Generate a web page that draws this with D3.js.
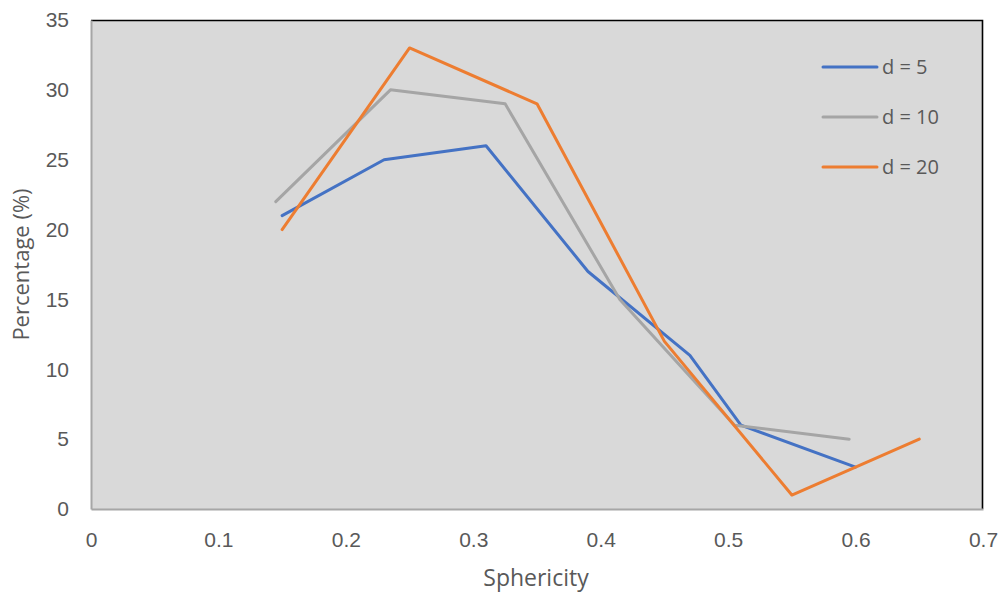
<!DOCTYPE html>
<html>
<head>
<meta charset="utf-8">
<script src="https://cdn.jsdelivr.net/npm/d3@7"></script>
<style>
  body { margin: 0; background: #fff; }
  svg { display: block; font-family: "Open Sans", "Liberation Sans", sans-serif; }
</style>
</head>
<body>
<svg id="chart" width="1003" height="594"></svg>
<script>
// series data
const d5X  = [0.15, 0.23, 0.31, 0.39, 0.47, 0.51, 0.60];
const d5Y  = [21, 25, 26, 17, 11, 6, 3];
const d10X = [0.145, 0.235, 0.325, 0.415, 0.505, 0.595];
const d10Y = [22, 30, 29, 15, 6, 5];
const d20X = [0.15, 0.25, 0.35, 0.45, 0.55, 0.65];
const d20Y = [20, 33, 29, 12, 1, 5];

const seriesNames = ["d = 5", "d = 10", "d = 20"];
const seriesColors = ["#4472c4", "#a5a5a5", "#ed7d31"];
const xTicks = [0, 0.1, 0.2, 0.3, 0.4, 0.5, 0.6, 0.7];
const yTicks = [0, 5, 10, 15, 20, 25, 30, 35];

const W = 1003, H = 594;
const margin = { top: 20, right: 20, bottom: 85, left: 91 };
const iw = W - margin.left - margin.right;
const ih = H - margin.top - margin.bottom;

const svg = d3.select("#chart");
const g = svg.append("g").attr("transform", `translate(${margin.left},${margin.top})`);

const x = d3.scaleLinear().domain([0, 0.7]).range([0, iw]);
const y = d3.scaleLinear().domain([0, 35]).range([ih, 0]);

// plot area
g.append("rect")
  .attr("width", iw).attr("height", ih)
  .attr("fill", "#d9d9d9");

// black frame on top and right
g.append("path")
  .attr("d", `M0,0.5H${iw - 0.5}V${ih}`)
  .attr("fill", "none")
  .attr("stroke", "#000")
  .attr("stroke-width", 1.6);

// axes
const xAxis = g.append("g")
  .attr("transform", `translate(0,${ih})`)
  .call(d3.axisBottom(x).tickValues(xTicks).tickSize(0).tickPadding(23)
    .tickFormat(d => d === 0 ? "0" : d3.format(".1f")(d)));
const yAxis = g.append("g")
  .call(d3.axisLeft(y).tickValues(yTicks).tickSize(0).tickPadding(22));

[xAxis, yAxis].forEach(a => {
  a.select(".domain").attr("stroke", "#a6a6a6").attr("stroke-width", 2);
  a.selectAll("text").attr("fill", "#595959").style("font-size", "21px");
});

// lines
const line = d3.line().x(d => x(d[0])).y(d => y(d[1]));
const series = [
  d3.zip(d5X, d5Y),
  d3.zip(d10X, d10Y),
  d3.zip(d20X, d20Y)
];
series.forEach((pts, i) => {
  g.append("path")
    .datum(pts)
    .attr("fill", "none")
    .attr("stroke", seriesColors[i])
    .attr("stroke-width", 3)
    .attr("stroke-linejoin", "round")
    .attr("stroke-linecap", "round")
    .attr("d", line);
});

// legend
const legend = svg.append("g").attr("transform", "translate(823,67)");
seriesNames.forEach((name, i) => {
  const row = legend.append("g").attr("transform", `translate(0,${i * 50})`);
  row.append("line")
    .attr("x1", 0).attr("x2", 54)
    .attr("stroke", seriesColors[i])
    .attr("stroke-width", 3)
    .attr("stroke-linecap", "round");
  row.append("text")
    .attr("x", 59).attr("dy", "0.35em")
    .attr("fill", "#595959")
    .style("font-size", "20px")
    .text(name);
});

// axis titles
svg.append("text")
  .attr("x", margin.left + iw / 2 - 1).attr("y", 586)
  .attr("text-anchor", "middle")
  .attr("fill", "#595959")
  .style("font-size", "23px")
  .text("Sphericity");

svg.append("text")
  .attr("transform", `translate(29,${margin.top + ih / 2}) rotate(-90)`)
  .attr("text-anchor", "middle")
  .attr("fill", "#595959")
  .style("font-size", "22px")
  .text("Percentage (%)");
</script>
</body>
</html>
